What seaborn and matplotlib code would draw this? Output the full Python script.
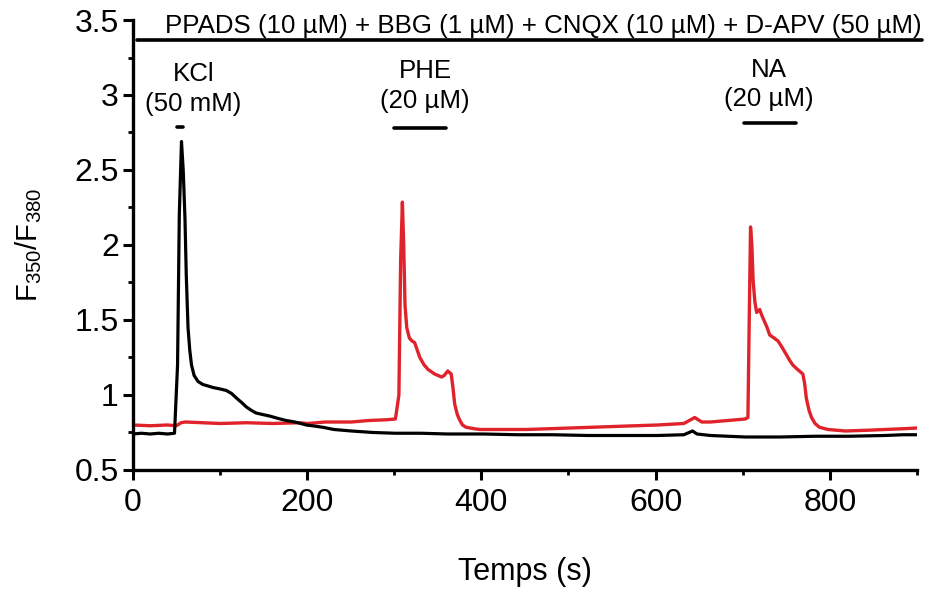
import matplotlib
matplotlib.use("Agg")
import matplotlib.pyplot as plt
import seaborn as sns
import pandas as pd
from matplotlib.ticker import MultipleLocator

# ---- data ----
kcl_t = [0, 10, 20, 30, 40, 48, 51.5, 53.5, 56, 58, 60, 61.5, 63.5, 65.5, 67.5, 70.5, 75, 80.5,
         86.5, 92, 100.5, 107.5, 113.5, 119, 125, 130.5, 135.5, 141.5, 149, 157, 166, 176, 186,
         193, 199, 206, 218, 231, 251, 276, 301, 331, 361, 402, 442, 482, 522, 562, 602, 632.5,
         642.5, 647.5, 663, 703, 743, 783, 823, 863, 884, 900]
kcl_v = [0.74, 0.745, 0.74, 0.745, 0.74, 0.745, 1.2, 2.2, 2.69, 2.5, 2.18, 1.8, 1.45, 1.30, 1.20,
         1.13, 1.09, 1.07, 1.06, 1.05, 1.04, 1.03, 1.01, 0.98, 0.95, 0.92, 0.90, 0.88, 0.87, 0.86,
         0.845, 0.83, 0.82, 0.81, 0.80, 0.795, 0.785, 0.77, 0.76, 0.75, 0.745, 0.745, 0.74, 0.74,
         0.735, 0.735, 0.73, 0.73, 0.73, 0.735, 0.76, 0.74, 0.73, 0.72, 0.72, 0.725, 0.725, 0.73,
         0.735, 0.735]

red_t = [0, 20, 40, 50, 55.5, 60.5, 80.5, 100.5, 130.5, 160.5, 191, 201, 221, 251, 271, 291.5,
         301.5, 305.5, 307.5, 309.5, 311, 312.5, 314.5, 317.5, 320.5, 323.5, 326.5, 329.5, 334.5,
         339, 346.5, 354.5, 357.5, 361.5, 365.5, 367.5, 369.5, 372.5, 375.5, 378.5, 382.5, 392,
         398.5, 422, 452, 502, 552, 602.5, 632.5, 645, 653, 663, 683, 703, 706, 707.5, 709, 710.5,
         712, 714, 716, 719.5, 722, 725, 728, 731, 736, 740.5, 745, 750, 754, 757.5, 763, 769,
         771, 773, 776, 779, 783, 788, 798, 818, 843, 863, 884, 900]
red_v = [0.80, 0.795, 0.80, 0.795, 0.815, 0.82, 0.815, 0.81, 0.815, 0.81, 0.815, 0.81, 0.82,
         0.82, 0.83, 0.835, 0.84, 1.0, 1.9, 2.286, 2.0, 1.60, 1.45, 1.38, 1.36, 1.35, 1.30, 1.25,
         1.20, 1.17, 1.14, 1.12, 1.13, 1.16, 1.14, 1.05, 0.94, 0.87, 0.83, 0.80, 0.785, 0.775,
         0.77, 0.77, 0.77, 0.78, 0.79, 0.80, 0.81, 0.85, 0.82, 0.82, 0.83, 0.84, 0.85, 1.5, 2.12,
         2.0, 1.76, 1.62, 1.55, 1.57, 1.53, 1.49, 1.45, 1.40, 1.38, 1.36, 1.32, 1.27, 1.23, 1.20,
         1.17, 1.14, 1.08, 0.98, 0.90, 0.85, 0.81, 0.785, 0.77, 0.76, 0.765, 0.77, 0.775, 0.78]

top_label = "PPADS (10 µM) + BBG (1 µM) + CNQX (10 µM) + D-APV (50 µM)"
stim_names = ["KCl", "PHE", "NA"]
stim_conc = ["(50 mM)", "(20 µM)", "(20 µM)"]
stim_start = [51, 300, 701]
stim_end = [58, 360, 761]
stim_bar_y = [2.785, 2.78, 2.81]
stim_text_x = [69.5, 335.5, 730]
stim_name_y = [3.093, 3.113, 3.12]
stim_conc_y = [2.895, 2.913, 2.927]
x_ticks = [0, 200, 400, 600, 800]
y_ticks = [0.5, 1, 1.5, 2, 2.5, 3, 3.5]
y_tick_labels = ["0.5", "1", "1.5", "2", "2.5", "3", "3.5"]

df_k = pd.DataFrame({"t": kcl_t, "v": kcl_v})
df_r = pd.DataFrame({"t": red_t, "v": red_v})

sns.set_theme(style="white")
plt.rcParams["font.family"] = ["Liberation Sans", "DejaVu Sans"]
plt.rcParams["mathtext.default"] = "regular"

fig = plt.figure(figsize=(9.47, 5.90), dpi=100)
ax = fig.add_axes([0.1401, 0.2034, 0.8282, 0.7627])

sns.lineplot(data=df_r, x="t", y="v", ax=ax, color="#e0232b", linewidth=2.4, estimator=None)
sns.lineplot(data=df_k, x="t", y="v", ax=ax, color="black", linewidth=2.3, estimator=None)

ax.set_xlim(0, 900)
ax.set_ylim(0.5, 3.5)
ax.set_xticks(x_ticks)
ax.set_xticklabels([str(t) for t in x_ticks])
ax.set_yticks(y_ticks)
ax.set_yticklabels(y_tick_labels)
ax.xaxis.set_minor_locator(MultipleLocator(100))
ax.yaxis.set_minor_locator(MultipleLocator(0.25))
ax.tick_params(axis="both", which="major", direction="out", length=7, width=2.2,
               labelsize=23, color="black", labelcolor="black", bottom=True, left=True)
ax.tick_params(axis="x", which="major", pad=6)
ax.tick_params(axis="y", which="major", pad=3)
ax.tick_params(axis="both", which="minor", direction="out", length=3.5, width=2,
               color="black", bottom=True, left=True)

for s in ["top", "right"]:
    ax.spines[s].set_visible(False)
for s in ["left", "bottom"]:
    ax.spines[s].set_linewidth(2.4)
    ax.spines[s].set_color("black")

ax.set_xlabel("Temps (s)", fontsize=22, labelpad=28, color="black")
ax.set_ylabel("F$_{350}$/F$_{380}$", fontsize=21, labelpad=22, color="black")

# top application bar
ax.plot([5, 906], [3.368, 3.368], color="black", linewidth=2.6, clip_on=False)
ax.text(471, 3.413, top_label, ha="center", va="baseline", fontsize=18.6,
        color="black", clip_on=False)

for name, conc, s0, s1, by, tx, ny, cy in zip(stim_names, stim_conc, stim_start, stim_end,
                                              stim_bar_y, stim_text_x, stim_name_y, stim_conc_y):
    ax.plot([s0, s1], [by, by], color="black", linewidth=2.6)
    ax.text(tx, ny, name, ha="center", va="baseline", fontsize=18.6, color="black")
    ax.text(tx, cy, conc, ha="center", va="baseline", fontsize=18.6, color="black")

fig.savefig("out.png", dpi=100)
